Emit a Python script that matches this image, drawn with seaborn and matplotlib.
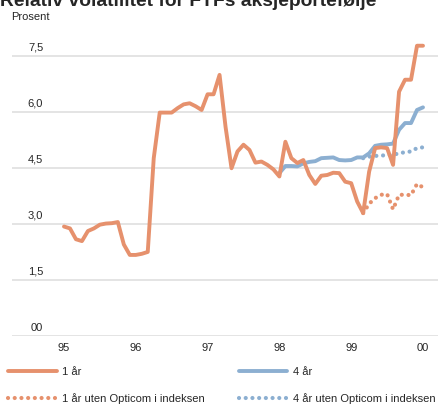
import numpy as np
import pandas as pd
import seaborn as sns
import matplotlib.pyplot as plt

# monthly observations, Jan 1995 - Jan 2000
months = pd.date_range("1995-01-01", periods=61, freq="MS")
t_all = months.year + (months.month - 1) / 12

vol_1y = [2.93, 2.88, 2.59, 2.54, 2.81, 2.88, 2.98, 3.01, 3.02, 3.05,
          2.45, 2.17, 2.17, 2.20, 2.25, 4.76, 5.98, 5.98, 5.98, 6.10,
          6.20, 6.23, 6.15, 6.05, 6.47, 6.47, 6.99, 5.60, 4.49, 4.94,
          5.12, 4.98, 4.64, 4.67, 4.58, 4.46, 4.27, 5.20, 4.76, 4.63,
          4.71, 4.31, 4.07, 4.29, 4.31, 4.37, 4.36, 4.13, 4.09, 3.60,
          3.29, 4.40, 5.03, 5.05, 5.03, 4.58, 6.54, 6.86, 6.86, 7.77,
          7.77]
# 4 year window, from Jan 1998
vol_4y = [4.36, 4.55, 4.55, 4.54, 4.62, 4.66, 4.68, 4.76, 4.77, 4.78,
          4.71, 4.70, 4.71, 4.78, 4.78, 4.89, 5.09, 5.12, 5.13, 5.15,
          5.52, 5.70, 5.70, 6.05, 6.12]
# without Opticom, from Mar 1999
vol_1y_ex = [3.29, 3.54, 3.69, 3.78, 3.80, 3.39, 3.78, 3.78, 3.77, 4.07, 3.98]
vol_4y_ex = [4.76, 4.80, 4.82, 4.83, 4.84, 4.85, 4.89, 4.92, 4.94, 5.03, 5.05]

yticks = [0, 1.5, 3.0, 4.5, 6.0, 7.5]
ytick_labels = ["00", "1,5", "3,0", "4,5", "6,0", "7,5"]
xticks = [1995, 1996, 1997, 1998, 1999, 2000]
xtick_labels = ["95", "96", "97", "98", "99", "00"]

orange = "#E6916D"
blue = "#8CAFD1"

sns.set_style("white")
plt.rcParams["font.family"] = ["Liberation Sans", "DejaVu Sans"]

fig = plt.figure(figsize=(4.38, 4.04), dpi=100)
ax = fig.add_axes([12 / 438, 1 - 336 / 404, 426 / 438, 297 / 404])

df1 = pd.DataFrame({"t": t_all, "v": vol_1y})
df4 = pd.DataFrame({"t": t_all[36:], "v": vol_4y})
df1x = pd.DataFrame({"t": t_all[50:], "v": vol_1y_ex})
df4x = pd.DataFrame({"t": t_all[50:], "v": vol_4y_ex})

dots = (0, (0.01, 1.6))
sns.lineplot(data=df1x, x="t", y="v", color=orange, lw=3.0, linestyle=dots,
             dash_capstyle="round", estimator=None, ax=ax, label="1 år uten Opticom i indeksen")
sns.lineplot(data=df4x, x="t", y="v", color=blue, lw=3.0, linestyle=dots,
             dash_capstyle="round", estimator=None, ax=ax, label="4 år uten Opticom i indeksen")
sns.lineplot(data=df4, x="t", y="v", color=blue, lw=2.8, estimator=None, ax=ax,
             label="4 år", solid_joinstyle="round")
sns.lineplot(data=df1, x="t", y="v", color=orange, lw=2.8, estimator=None, ax=ax,
             label="1 år", solid_joinstyle="round")

ax.set_xlim(1994.276, 2000.209)
ax.set_ylim(0, 7.95)
for s in ax.spines.values():
    s.set_visible(False)
ax.set_yticks(yticks)
ax.set_yticklabels([])
ax.yaxis.grid(True, color="#DDDDDD", lw=1.1)
ax.set_axisbelow(True)
ax.tick_params(axis="y", length=0)
for v, lab in zip(yticks, ytick_labels):
    ax.annotate(lab, xy=(0, v), xycoords=("axes fraction", "data"),
                xytext=(22.5, 2.5), textcoords="offset points",
                ha="right", va="bottom", fontsize=8)
ax.set_xticks(xticks)
ax.set_xticklabels(xtick_labels, fontsize=8)
ax.tick_params(axis="x", length=0, pad=5)
ax.set_xlabel("")
ax.set_ylabel("")

h, l = ax.get_legend_handles_labels()
order = ["1 år", "1 år uten Opticom i indeksen", "4 år", "4 år uten Opticom i indeksen"]
hmap = dict(zip(l, h))
ax.get_legend().remove()
fig.legend([hmap[k] for k in order], order, loc="upper left",
           bbox_to_anchor=(8 / 438, 1 - 367 / 404), ncol=2, frameon=False,
           fontsize=8, handlelength=4.4, handletextpad=0.5,
           columnspacing=3.0, labelspacing=1.45, borderpad=0, borderaxespad=0)

fig.text(0.0, 1 - 6.5 / 404, "Relativ volatilitet for FTFs aksjeportefølje",
         fontsize=13.9, fontweight="bold", va="baseline", ha="left")
fig.text(11 / 438, 1 - 20 / 404, "Prosent", fontsize=8, va="baseline", ha="left")

fig.savefig("out.png", dpi=100)
